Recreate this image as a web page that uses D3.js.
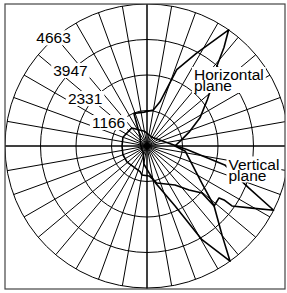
<!DOCTYPE html>
<html><head><meta charset="utf-8">
<script src="https://cdn.jsdelivr.net/npm/d3@7"></script>
<style>body{margin:0;background:#fff}svg{display:block}text{font-family:"Liberation Sans",Arial,sans-serif}</style>
</head><body>
<script>
// ---- data ----
const ringValues = [1166, 2331, 3497, 4663];
const ringLabels = ["1166", "2331", "3947", "4663"];
const spokeAngles = d3.range(0, 360, 10);            // degrees, clockwise from north
// Horizontal plane pattern: bearing (deg, clockwise from north) and magnitude
const hAngles = [167, 155, 149.6, 144.2, 140, 131.8, 124, 97.9, 90, 80, 72, 62, 52.5, 46, 41, 38, 35.1, 28, 21.3, 16.4, 10, 355, 338, 325, 300, 270, 240, 210, 190, 175, 167];
const hValues = [1248, 2167, 3566, 4663, 3842, 2955, 2167, 1271, 919, 1149, 1445, 1970, 2496, 3021, 3514, 4105, 4663, 3448, 2693, 1511, 1199, 1116, 1149, 394, 250, 200, 200, 250, 600, 900, 1248];
// Vertical plane pattern
const vAngles = [350, 320, 290, 270, 250, 231, 195, 190, 176, 165, 144.3, 136.3, 130.5, 131.8, 125.8, 125, 125.2, 120.6, 116.9, 112.4, 103.7, 95, 80, 30, 350];
const vValues = [493, 775, 841, 821, 841, 841, 873, 965, 985, 1258, 1576, 1997, 2374, 2955, 2916, 3087, 3415, 4006, 4663, 3612, 2627, 1313, 657, 328, 493];

// ---- layout ----
const W = 287, H = 293;
const cx = 147, cy = 146, R = 142;
const frame = {x0: 5, y0: 4, x1: 285, y1: 289};
const rad = d3.scaleLinear().domain([0, 4663]).range([0, R]);
const toRad = d => d * Math.PI / 180;

const svg = d3.select("body").append("svg").attr("width", W).attr("height", H);
svg.append("clipPath").attr("id", "clip").append("rect")
  .attr("x", frame.x0).attr("y", frame.y0)
  .attr("width", frame.x1 - frame.x0).attr("height", frame.y1 - frame.y0);

const g = svg.append("g").attr("clip-path", "url(#clip)")
  .append("g").attr("transform", `translate(${cx},${cy})`);

// rings
g.selectAll("circle.ring").data(ringValues).join("circle")
  .attr("class", "ring").attr("r", d => rad(d))
  .attr("fill", "none").attr("stroke", "#000").attr("stroke-width", 1);

// spokes
g.selectAll("line.spoke").data(spokeAngles).join("line")
  .attr("x1", 0).attr("y1", 0)
  .attr("x2", d => R * Math.sin(toRad(d)))
  .attr("y2", d => -R * Math.cos(toRad(d)))
  .attr("stroke", "#000").attr("stroke-width", 1);

// axes across the frame
g.append("line").attr("x1", frame.x0 - cx).attr("x2", frame.x1 - cx).attr("y1", 0).attr("y2", 0)
  .attr("stroke", "#000").attr("stroke-width", 1);
g.append("line").attr("y1", frame.y0 - cy).attr("y2", frame.y1 - cy).attr("x1", 0).attr("x2", 0)
  .attr("stroke", "#000").attr("stroke-width", 1);

// series
const radial = d3.lineRadial().angle(d => toRad(d[0])).radius(d => rad(d[1]));
[[hAngles, hValues], [vAngles, vValues]].forEach(([a, v]) => {
  g.append("path").datum(a.map((x, i) => [x, v[i]]))
    .attr("d", radial).attr("fill", "none")
    .attr("stroke", "#000").attr("stroke-width", 1.6).attr("stroke-linejoin", "round");
});

// frame
svg.append("rect").attr("x", frame.x0).attr("y", frame.y0)
  .attr("width", frame.x1 - frame.x0).attr("height", frame.y1 - frame.y0)
  .attr("fill", "none").attr("stroke", "#444").attr("stroke-width", 1.2);

// labels with white backgrounds
const fs = 15.5;
function label(lines, x, y, anchor) {
  const t = svg.append("g");
  const txt = t.append("text").attr("font-size", fs).attr("text-anchor", anchor || "start");
  lines.forEach((s, i) => txt.append("tspan").attr("x", x).attr("y", y + i * 11).text(s));
  const b = txt.node().getBBox();
  t.insert("rect", "text").attr("x", b.x - 2).attr("y", b.y + 1)
    .attr("width", b.width + 4).attr("height", b.height - 2).attr("fill", "#fff");
}
const labelBearing = [-58.6, -52.5, -45.4, -40.8];
const labelOffset = [9.5, 7, 1, 1];
ringValues.forEach((v, i) => {
  const r = rad(v) + labelOffset[i], a = toRad(labelBearing[i]);
  label([ringLabels[i]], cx + r * Math.sin(a), cy - r * Math.cos(a) + 5.5, "middle");
});
label(["Horizontal", "plane"], 194, 80);
label(["Vertical", "plane"], 228.5, 169.5);
</script>
</body></html>
